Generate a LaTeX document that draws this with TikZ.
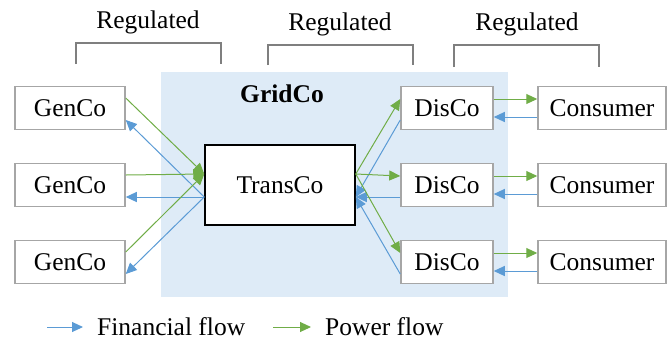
\documentclass[tikz,border=0pt]{standalone}
\usepackage{fontspec}
\setmainfont{Liberation Serif}
\usepackage{tikz}
\usetikzlibrary{arrows.meta,positioning}

\definecolor{gridfill}{HTML}{DEEBF7}
\definecolor{finblue}{HTML}{5B9BD5}
\definecolor{powgreen}{HTML}{70AD47}
\definecolor{boxgray}{HTML}{A6A6A6}
\definecolor{brackgray}{HTML}{7F7F7F}
\newcommand{\diagfont}{\fontsize{25.5}{30}\selectfont}

\begin{document}
\begin{tikzpicture}[x=1pt,y=-1pt,node distance=77pt,on grid,font=\diagfont,
    ent/.style={draw=boxgray,line width=1.5pt,fill=white,minimum height=43pt,inner sep=0pt},
    fin/.style={draw=finblue,line width=1pt,-{Triangle[length=11pt,width=10pt]}},
    pow/.style={draw=powgreen,line width=1pt,-{Triangle[length=11pt,width=10pt]}},
    brack/.style={draw=brackgray,line width=1.5pt}]
    \useasboundingbox (0,0) rectangle (668,341);
    \fill[gridfill] (161,72) rectangle (508,297);
    \node[font=\diagfont\bfseries] (grid) at (282,94) {GridCo};
    % generators
    \node[ent,minimum width=110pt] (g_2) at (70,185)  {GenCo};
    \node[ent,minimum width=110pt] (g_1) [above=of g_2] {GenCo};
    \node[ent,minimum width=110pt] (g_3) [below=of g_2] {GenCo};
    % transmission
    \node[draw=black,line width=1.5pt,fill=white,minimum width=150pt,minimum height=80pt]
        (t) at (280,185) {TransCo};
    % distribution
    \node[ent,minimum width=92pt] (d_2) at (447,185)  {DisCo};
    \node[ent,minimum width=92pt] (d_1) [above=of d_2] {DisCo};
    \node[ent,minimum width=92pt] (d_3) [below=of d_2] {DisCo};
    % consumers
    \node[ent,minimum width=128pt] (c_2) at (602,185)  {Consumer};
    \node[ent,minimum width=128pt] (c_1) [above=of c_2] {Consumer};
    \node[ent,minimum width=128pt] (c_3) [below=of c_2] {Consumer};
    % regulated brackets
    \node (r_1) at (148,22) {Regulated};
    \node (r_2) at (340,24) {Regulated};
    \node (r_3) at (527,24) {Regulated};
    \draw[brack] (76,64) |- (221,43) -- (221,64);
    \draw[brack] (268,65) |- (413,45) -- (413,65);
    \draw[brack] (454,67) |- (599,45) -- (599,67);
    % generator edges
    \foreach \i in {1,2,3} {
      \draw[pow] ([yshift=10pt]g_\i.east) -- ([yshift=11pt]t.west);
      \draw[fin] ([yshift=-12pt]t.west) -- ([yshift=-12pt]g_\i.east);
    }
    % distribution edges
    \foreach \i in {1,2,3} {
      \draw[pow] ([yshift=11pt]t.east) -- ([yshift=9pt]d_\i.west);
      \draw[fin] ([yshift=-12pt]d_\i.west) -- ([yshift=-12pt]t.east);
      \draw[pow] ([yshift=9pt]d_\i.east) -- ([yshift=9pt]c_\i.west);
      \draw[fin] ([yshift=-9pt]c_\i.west) -- ([yshift=-9pt]d_\i.east);
    }
    % legend
    \coordinate (fin_0) at (47,327);
    \node[anchor=west,inner sep=0pt] (fin_lbl) at (97,327) {Financial flow};
    \draw[fin] (fin_0) -- ([xshift=-14pt]fin_lbl.west);
    \coordinate (pow_0) at (273,327);
    \node[anchor=west,inner sep=0pt] (pow_lbl) at (325,327) {Power flow};
    \draw[pow] (pow_0) -- ([xshift=-14pt]pow_lbl.west);
\end{tikzpicture}
\end{document}
